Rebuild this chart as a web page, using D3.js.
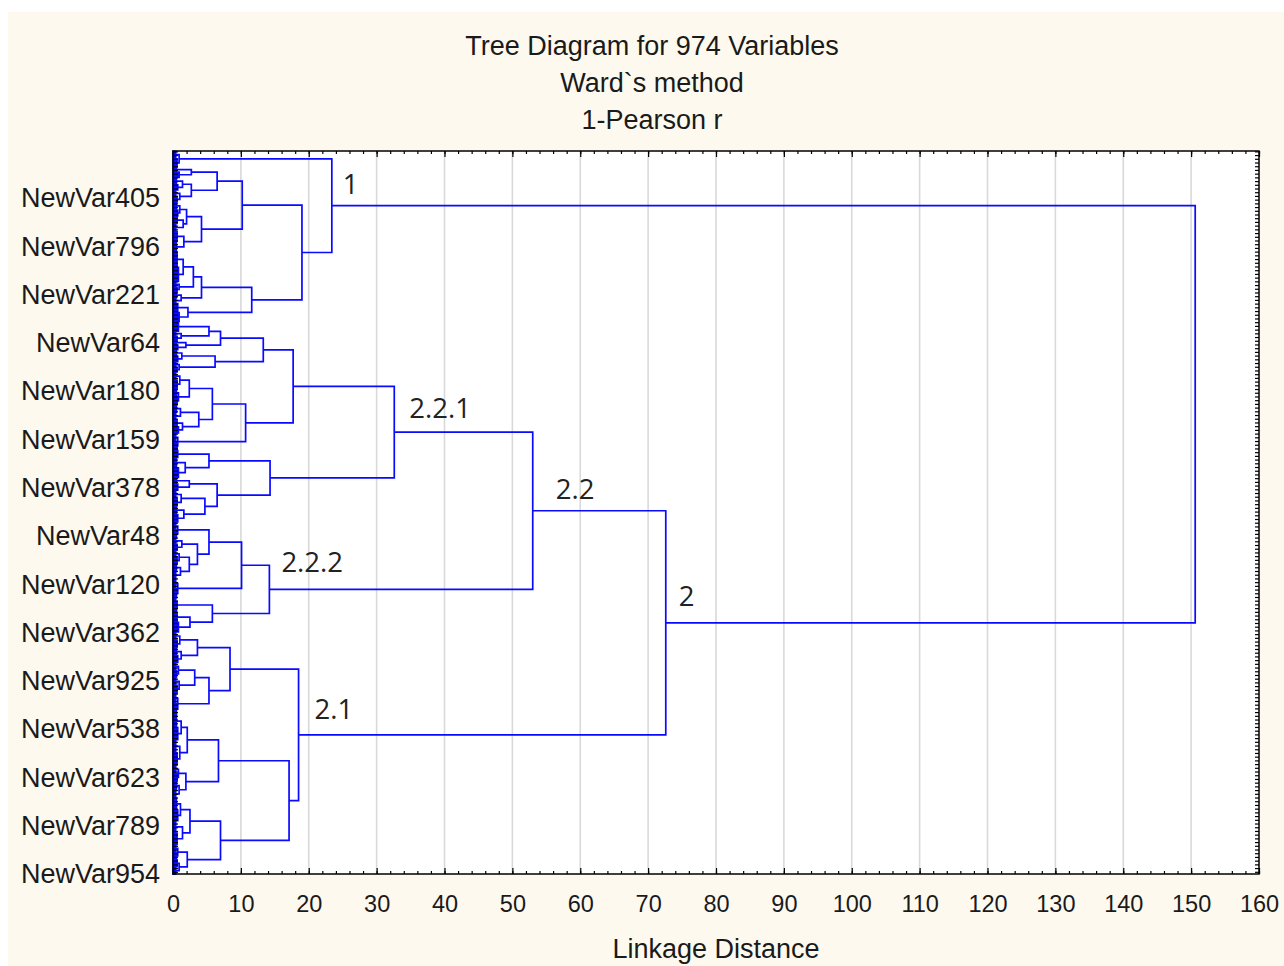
<!DOCTYPE html>
<html>
<head>
<meta charset="utf-8">
<script src="https://cdn.jsdelivr.net/npm/d3@7"></script>
<style>
  html, body { margin: 0; padding: 0; background: #ffffff; }
  svg { display: block; }
</style>
</head>
<body>
<svg id="chart" width="1284" height="966"></svg>
<script>
// ---- Dendrogram data ------------------------------------------------------
// Internal merge: [linkageDistance, leftChild, rightChild]
// Leaf group:     [linkageDistance, numberOfVariables]
const cluster1 = [23.4,
  [0.9, [0.4, 10], [0.6, 12]],
  [19.0,
    [10.2,
      [6.5,
        [2.7, [0.5, 6], [0.9, 8]],
        [2.7, [1.4, [0.5, 9], [0.7, 8]], [1.0, [0.4, 8], [0.6, 8]]]],
      [4.2,
        [2.0, [1.0, [0.5, 10], [0.7, 9]], [1.5, [0.6, 10], [0.4, 10]]],
        [1.6, [0.6, 14], [0.5, 14]]]],
    [11.6,
      [4.2,
        [3.0, [1.5, [0.6, 20], [0.8, 20]], [0.9, [0.4, 7], [0.6, 7]]],
        [1.2, [0.5, 8], [0.4, 7]]],
      [2.2, [0.7, 12], [0.9, 13]]]]];

const cluster221 = [32.6,
  [17.7,
    [13.3,
      [7.0,
        [5.3, [0.8, 13], [1.2, [0.4, 6], [0.6, 6]]],
        [1.9, [0.5, 6], [0.7, 7]]],
      [6.2, [1.3, [0.5, 8], [0.7, 8]], [0.9, [0.4, 7], [0.6, 7]]]],
    [10.7,
      [5.8,
        [2.4, [1.0, [0.4, 10], [0.6, 12]], [0.8, [0.5, 11], [0.6, 11]]],
        [3.8, [1.1, [0.5, 10], [0.4, 10]], [1.4, [0.6, 9], [0.8, 9]]]],
      [0.7, [0.4, 11], [0.6, 12]]]],
  [14.3,
    [5.3, [0.7, 10], [1.8, [0.5, 13], [0.8, 14]]],
    [6.5,
      [2.4, [0.5, 8], [0.7, 9]],
      [4.7, [1.2, [0.4, 11], [0.6, 10]], [1.6, [0.5, 11], [0.7, 11]]]]]];

const cluster222 = [14.2,
  [10.1,
    [5.3,
      [0.7, [0.4, 10], [0.5, 11]],
      [3.6,
        [1.3, [0.4, 8], [0.6, 9]],
        [2.4, [0.9, [0.4, 9], [0.6, 9]], [1.1, [0.5, 10], [0.4, 10]]]]],
    [0.7, [0.4, 13], [0.5, 13]]],
  [5.8,
    [0.6, [0.4, 9], [0.5, 10]],
    [2.5, [0.6, 13], [0.8, 14]]]];

const cluster21 = [18.5,
  [8.4,
    [3.6, [1.0, [0.4, 10], [0.6, 11]], [1.2, [0.5, 10], [0.7, 10]]],
    [5.3,
      [3.2, [0.8, [0.4, 10], [0.5, 10]], [0.9, [0.4, 10], [0.6, 11]]],
      [0.7, [0.4, 14], [0.5, 15]]]],
  [17.1,
    [6.7,
      [2.1, [1.2, [0.5, 17], [0.7, 17]], [1.0, [0.4, 17], [0.6, 17]]],
      [1.9, [0.8, [0.4, 11], [0.6, 11]], [0.9, [0.5, 11], [0.4, 11]]]],
    [7.0,
      [2.5, [1.1, [0.5, 16], [0.7, 15]], [1.4, [0.4, 16], [0.6, 16]]],
      [2.1, [0.7, [0.4, 10], [0.5, 10]], [0.9, [0.6, 10], [0.4, 10]]]]]];

const cluster22 = [53.0, cluster221, cluster222];
const cluster2 = [72.6, cluster22, cluster21];
const treeRoot = [150.6, cluster1, cluster2];

// Cluster annotations and the merges they name
const clusterNames = ["1", "2", "2.2", "2.2.1", "2.2.2", "2.1"];
const clusterNodes = [cluster1, cluster2, cluster22, cluster221, cluster222, cluster21];

// Variable labels shown on the vertical axis (leaf positions)
const leafLabelIndex = [63, 128, 193, 258, 323, 388, 453, 518, 583, 648, 713, 778, 843, 908, 973];
const leafLabels = ["NewVar405", "NewVar796", "NewVar221", "NewVar64", "NewVar180",
  "NewVar159", "NewVar378", "NewVar48", "NewVar120", "NewVar362", "NewVar925",
  "NewVar538", "NewVar623", "NewVar789", "NewVar954"];

const xTicks = d3.range(0, 161, 10);
const xMinorTicks = d3.range(0, 161, 2);
const titleLines = ["Tree Diagram for 974 Variables", "Ward`s method", "1-Pearson r"];
const xAxisTitle = "Linkage Distance";
const nVariables = 974;

// ---- Layout ---------------------------------------------------------------
const W = 1284, H = 966;
const plot = { left: 173, right: 1259, top: 151, bottom: 874 };
const svg = d3.select("#chart");
const font = "'Liberation Sans', Arial, sans-serif";

svg.append("rect").attr("x", 8).attr("y", 12).attr("width", W - 8).attr("height", H - 12)
  .attr("fill", "#fdf9ef");
svg.append("rect").attr("x", plot.left).attr("y", plot.top)
  .attr("width", plot.right - plot.left).attr("height", plot.bottom - plot.top)
  .attr("fill", "#ffffff");

const x = d3.scaleLinear().domain([0, 160]).range([plot.left, plot.right]);
const y = d3.scaleLinear().domain([-0.5, nVariables - 0.5]).range([plot.top, plot.bottom + 0.4]);

// vertical grid lines
svg.append("g").selectAll("line").data(xTicks.filter(t => t > 0 && t < 160)).join("line")
  .attr("x1", d => x(d)).attr("x2", d => x(d))
  .attr("y1", plot.top).attr("y2", plot.bottom)
  .attr("stroke", "#d9d9d9").attr("stroke-width", 1.6);

// ---- Tree layout: assign leaf slots depth-first ---------------------------
let nextLeaf = 0;
function layout(node) {
  if (typeof node[1] === "number") {
    const first = nextLeaf, n = node[1];
    nextLeaf += n;
    return { h: node[0], first, last: first + n - 1, pos: first + (n - 1) / 2, count: n, src: node };
  }
  const a = layout(node[1]), b = layout(node[2]);
  return { h: node[0], a, b, pos: (a.pos + b.pos) / 2, src: node };
}
const tree = layout(treeRoot);

const path = d3.path();
const nodeByData = new Map();
function trace(n) {
  nodeByData.set(n.src, n);
  if (n.count) {
    for (let i = n.first; i <= n.last; i++) {
      path.moveTo(x(0), y(i)); path.lineTo(x(n.h), y(i));
    }
    path.moveTo(x(n.h), y(n.first)); path.lineTo(x(n.h), y(n.last));
    return;
  }
  trace(n.a); trace(n.b);
  path.moveTo(x(n.a.h), y(n.a.pos)); path.lineTo(x(n.h), y(n.a.pos));
  path.moveTo(x(n.b.h), y(n.b.pos)); path.lineTo(x(n.h), y(n.b.pos));
  path.moveTo(x(n.h), y(n.a.pos)); path.lineTo(x(n.h), y(n.b.pos));
}
trace(tree);

svg.append("path").attr("d", path.toString())
  .attr("fill", "none").attr("stroke", "#0a0aff").attr("stroke-width", 1.7)
  .attr("stroke-linecap", "square");

// ---- Axes -----------------------------------------------------------------
function styleAxis(g) {
  g.select(".domain").remove();
  g.selectAll(".tick line").attr("stroke", "#000").attr("stroke-width", 1.2);
}
// bottom: labelled major ticks + minor ticks, pointing inward
svg.append("g").attr("transform", `translate(0,${plot.bottom})`)
  .call(d3.axisBottom(x).tickValues(xMinorTicks).tickSize(-3).tickFormat(""))
  .call(styleAxis);
svg.append("g").attr("transform", `translate(0,${plot.bottom})`)
  .call(d3.axisBottom(x).tickValues(xTicks).tickSize(-6).tickPadding(21))
  .call(styleAxis)
  .call(g => g.selectAll("text").attr("font-family", font).attr("font-size", 23.5).attr("fill", "#1a1a1a"));
// top: mirrored ticks
svg.append("g").attr("transform", `translate(0,${plot.top})`)
  .call(d3.axisTop(x).tickValues(xMinorTicks).tickSize(-3).tickFormat(""))
  .call(styleAxis);
svg.append("g").attr("transform", `translate(0,${plot.top})`)
  .call(d3.axisTop(x).tickValues(xTicks).tickSize(-6).tickFormat(""))
  .call(styleAxis);

// left: one tick per few variables, names at the labelled slots
svg.append("g").attr("transform", `translate(${plot.left},0)`)
  .call(d3.axisLeft(y).tickValues(d3.range(0, nVariables, 5)).tickSize(-5).tickFormat(""))
  .call(styleAxis);
svg.append("g").attr("transform", `translate(${plot.left},0)`)
  .call(d3.axisLeft(y).tickValues(leafLabelIndex).tickSize(0).tickPadding(13)
    .tickFormat((d, i) => leafLabels[i]))
  .call(styleAxis)
  .call(g => g.selectAll("text").attr("font-family", font).attr("font-size", 27).attr("fill", "#1a1a1a"));
// right: mirrored ticks
svg.append("g").attr("transform", `translate(${plot.right},0)`)
  .call(d3.axisRight(y).tickValues(d3.range(0, nVariables, 5)).tickSize(-4).tickFormat(""))
  .call(styleAxis);

// frame
svg.append("rect").attr("x", plot.left).attr("y", plot.top)
  .attr("width", plot.right - plot.left).attr("height", plot.bottom - plot.top)
  .attr("fill", "none").attr("stroke", "#000").attr("stroke-width", 1.5);

// ---- Cluster annotations --------------------------------------------------
const labelOffsets = [[11, -12], [13, -17], [23, -12], [15, -14], [12, -17], [16, -16]];
svg.append("g").selectAll("text").data(clusterNames).join("text")
  .attr("x", (d, i) => x(nodeByData.get(clusterNodes[i]).h) + labelOffsets[i][0])
  .attr("y", (d, i) => y(nodeByData.get(clusterNodes[i]).pos) + labelOffsets[i][1])
  .attr("font-family", "'Open Sans', 'Noto Sans', sans-serif").attr("font-size", 27.5)
  .attr("fill", "#222").text(d => d);

// ---- Titles ---------------------------------------------------------------
svg.append("g").selectAll("text").data(titleLines).join("text")
  .attr("x", 652).attr("y", (d, i) => 55 + i * 37)
  .attr("text-anchor", "middle").attr("font-family", font).attr("font-size", 27)
  .attr("fill", "#1a1a1a").text(d => d);
svg.append("text").attr("x", (plot.left + plot.right) / 2).attr("y", 958)
  .attr("text-anchor", "middle").attr("font-family", font).attr("font-size", 27)
  .attr("fill", "#1a1a1a").text(xAxisTitle);
</script>
</body>
</html>
